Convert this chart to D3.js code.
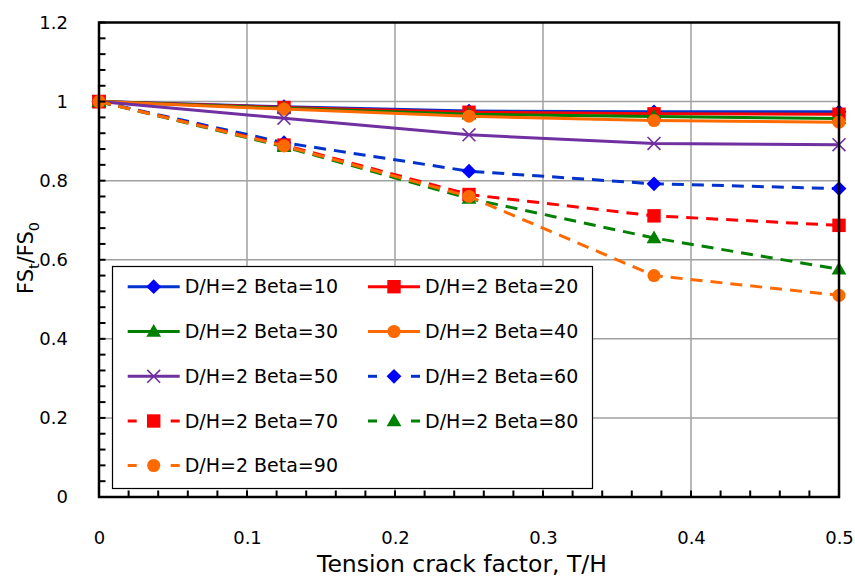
<!DOCTYPE html>
<html>
<head>
<meta charset="utf-8">
<script src="https://cdn.jsdelivr.net/npm/d3@7"></script>
<style>
  html, body { margin: 0; padding: 0; background: #fff; }
  svg { display: block; font-family: "DejaVu Sans", sans-serif; }
</style>
</head>
<body>
<svg id="chart" width="855" height="579"></svg>
<script>
// ---- data ----
const xValues = [0, 0.125, 0.25, 0.375, 0.5];
const seriesNames = ["D/H=2 Beta=10", "D/H=2 Beta=20", "D/H=2 Beta=30", "D/H=2 Beta=40", "D/H=2 Beta=50",
                     "D/H=2 Beta=60", "D/H=2 Beta=70", "D/H=2 Beta=80", "D/H=2 Beta=90"];
const beta10 = [1, 0.987, 0.976, 0.974, 0.974];
const beta20 = [1, 0.985, 0.973, 0.969, 0.968];
const beta30 = [1, 0.983, 0.968, 0.962, 0.957];
const beta40 = [1, 0.981, 0.963, 0.952, 0.948];
const beta50 = [1, 0.958, 0.916, 0.894, 0.891];
const beta60 = [1, 0.896, 0.824, 0.792, 0.780];
const beta70 = [1, 0.890, 0.765, 0.711, 0.687];
const beta80 = [1, 0.886, 0.755, 0.655, 0.576];
const beta90 = [1, 0.888, 0.760, 0.560, 0.510];
const xTicks = [0, 0.1, 0.2, 0.3, 0.4, 0.5];
const yTicks = [0, 0.2, 0.4, 0.6, 0.8, 1.0, 1.2];
const xTitle = "Tension crack factor, T/H";

// ---- styles ----
const values = [beta10, beta20, beta30, beta40, beta50, beta60, beta70, beta80, beta90];
const styles = [
  {line: "#0033cc", fill: "#0000ff", marker: "diamond", dash: null},
  {line: "#ff0000", fill: "#ff0000", marker: "square", dash: null},
  {line: "#008000", fill: "#008000", marker: "triangle", dash: null},
  {line: "#ff6a00", fill: "#ff6a00", marker: "circle", dash: null},
  {line: "#7030a0", fill: "#7030a0", marker: "x", dash: null},
  {line: "#0033cc", fill: "#0000ff", marker: "diamond", dash: "12,8"},
  {line: "#ff0000", fill: "#ff0000", marker: "square", dash: "12,8"},
  {line: "#008000", fill: "#008000", marker: "triangle", dash: "12,8"},
  {line: "#ff6a00", fill: "#ff6a00", marker: "circle", dash: "12,8"}
];

const svg = d3.select("#chart");
const pLeft = 99, pRight = 839, pTop = 22.5, pBottom = 497;
const x = d3.scaleLinear().domain([0, 0.5]).range([pLeft, pRight]);
const y = d3.scaleLinear().domain([0, 1.2]).range([pBottom, pTop]);
const fmt = d => String(+d.toFixed(2));

// gridlines
const grid = svg.append("g");
grid.selectAll(".gx").data(xTicks.slice(1, -1)).enter().append("line")
  .attr("x1", d => x(d)).attr("x2", d => x(d)).attr("y1", pTop).attr("y2", pBottom)
  .attr("stroke", "#a0a0a0").attr("stroke-width", 1.5);
grid.selectAll(".gy").data(yTicks.slice(1, -1)).enter().append("line")
  .attr("y1", d => y(d)).attr("y2", d => y(d)).attr("x1", pLeft).attr("x2", pRight)
  .attr("stroke", "#a0a0a0").attr("stroke-width", 1.5);

// data lines
const lineGen = d3.line().x((d, i) => x(xValues[i])).y(d => y(d));
function markerPath(type) {
  switch (type) {
    case "diamond": return d3.symbol(d3.symbolSquare, 110)();
    case "square": return d3.symbol(d3.symbolSquare, 180)();
    case "triangle": return d3.symbol(d3.symbolTriangle, 95)();
    case "circle": return d3.symbol(d3.symbolCircle, 135)();
    case "x": return d3.symbol(d3.symbolX, 110)();
  }
}
function drawMarker(g, st, cx, cy) {
  const p = g.append("path").attr("d", markerPath(st.marker));
  let tr = `translate(${cx},${cy})`;
  if (st.marker === "diamond") tr += " rotate(45)";
  if (st.marker === "triangle") tr = `translate(${cx},${cy + 1})`;
  p.attr("transform", tr);
  if (st.marker === "x") p.attr("fill", "none").attr("stroke", st.fill).attr("stroke-width", 1.6);
  else p.attr("fill", st.fill).attr("stroke", "none");
}

const plot = svg.append("g");
values.forEach((vals, si) => {
  const st = styles[si];
  const g = plot.append("g");
  g.append("path").attr("d", lineGen(vals)).attr("fill", "none")
    .attr("stroke", st.line).attr("stroke-width", 3)
    .attr("stroke-dasharray", st.dash);
  vals.forEach((v, i) => drawMarker(g, st, x(xValues[i]), y(v)));
});

// axes box
svg.append("rect").attr("x", pLeft).attr("y", pTop).attr("width", pRight - pLeft).attr("height", pBottom - pTop)
  .attr("fill", "none").attr("stroke", "#000").attr("stroke-width", 2.5);

// minor/major ticks (inward)
const xMinor = d3.range(0, 0.5001, 0.02);
const yMinor = d3.range(0, 1.2001, 0.04);
svg.append("g").selectAll("line").data(xMinor).enter().append("line")
  .attr("x1", d => x(d)).attr("x2", d => x(d)).attr("y1", pBottom).attr("y2", pBottom - 6.5)
  .attr("stroke", "#000").attr("stroke-width", 2);
svg.append("g").selectAll("line").data(yMinor).enter().append("line")
  .attr("y1", d => y(d)).attr("y2", d => y(d)).attr("x1", pLeft).attr("x2", pLeft + 6.5)
  .attr("stroke", "#000").attr("stroke-width", 2);

// tick labels via axes
const xAxis = svg.append("g").attr("transform", `translate(0,${pBottom})`)
  .call(d3.axisBottom(x).tickValues(xTicks).tickFormat(fmt).tickSize(0).tickPadding(34));
xAxis.select(".domain").remove();
xAxis.selectAll("text").attr("font-size", 18).attr("font-family", "DejaVu Sans").attr("fill", "#000");

const yAxis = svg.append("g").attr("transform", `translate(${pLeft},0)`)
  .call(d3.axisLeft(y).tickValues(yTicks).tickFormat(fmt).tickSize(0).tickPadding(31));
yAxis.select(".domain").remove();
yAxis.selectAll("text").attr("font-size", 18).attr("font-family", "DejaVu Sans").attr("fill", "#000");

// axis titles
svg.append("text").attr("x", 462).attr("y", 572).attr("text-anchor", "middle")
  .attr("font-size", 23.5).text(xTitle);

const yt = svg.append("text").attr("transform", "translate(33,258) rotate(-90)")
  .attr("text-anchor", "middle").attr("font-size", 21);
yt.append("tspan").text("FS");
yt.append("tspan").attr("font-size", 14.5).attr("dy", 6).text("t");
yt.append("tspan").attr("dy", -6).text("/FS");
yt.append("tspan").attr("font-size", 14.5).attr("dy", 6).text("0");

// legend
const lg = svg.append("g");
lg.append("rect").attr("x", 112.5).attr("y", 266.5).attr("width", 480).attr("height", 222)
  .attr("fill", "#fff").attr("stroke", "#000").attr("stroke-width", 1.2);
const rowY = [286.7, 331.5, 376.3, 421, 465.5];
const colX = [127.7, 368];
seriesNames.forEach((name, i) => {
  const st = styles[i];
  const cx = colX[i % 2], cy = rowY[Math.floor(i / 2)];
  const g = lg.append("g");
  if (st.dash) {
    g.append("line").attr("x1", cx).attr("x2", cx + 9).attr("y1", cy).attr("y2", cy)
      .attr("stroke", st.line).attr("stroke-width", 3);
    g.append("line").attr("x1", cx + 43).attr("x2", cx + 52).attr("y1", cy).attr("y2", cy)
      .attr("stroke", st.line).attr("stroke-width", 3);
  } else {
    g.append("line").attr("x1", cx).attr("x2", cx + 52).attr("y1", cy).attr("y2", cy)
      .attr("stroke", st.line).attr("stroke-width", 3);
  }
  drawMarker(g, st, cx + 26, cy);
  g.append("text").attr("x", cx + 57).attr("y", cy).attr("dy", "0.35em")
    .attr("font-size", 19).text(name);
});
</script>
</body>
</html>
